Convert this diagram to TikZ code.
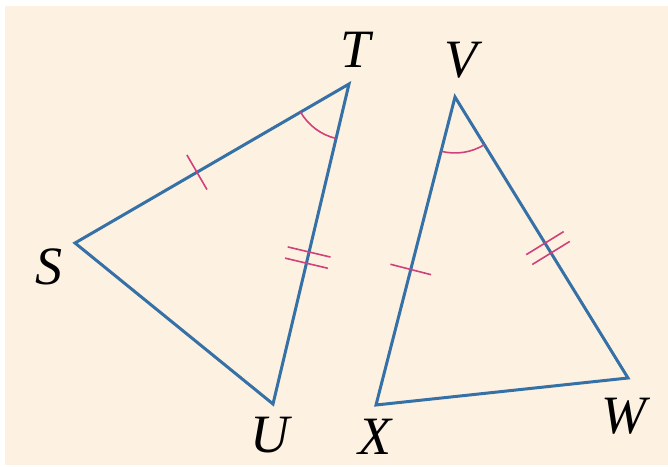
\documentclass[tikz,border=0pt]{standalone}
\usepackage{fontspec}
\setmainfont{Liberation Serif}
\usetikzlibrary{calc,angles}
\definecolor{bgcream}{HTML}{FDF2E2}
\definecolor{edgeblue}{HTML}{3570A6}
\definecolor{tickpink}{HTML}{D0407A}
\tikzset{
  edge/.style={draw=edgeblue,line width=3pt,line join=miter},
  tick/.style={draw=tickpink,line width=1.6pt},
  arcmark/.style={draw=tickpink,line width=1.6pt,angle radius=56pt},
  lbl/.style={inner sep=0pt,font=\fontsize{54}{60}\selectfont\itshape}
}
\begin{document}
\begin{tikzpicture}[x=1pt,y=1pt]
\useasboundingbox (0,0) rectangle (668,466);
\fill[white] (0,0) rectangle (668,466);
\fill[bgcream] (5,1) rectangle (668,460);
% vertices
\coordinate (T) at (349,382);
\coordinate (S) at (75,223);
\coordinate (U) at (273,62);
\coordinate (V) at (455,369);
\coordinate (X) at (376,61);
\coordinate (W) at (628,88);
% triangles
\draw[edge] (S) -- (T) -- (U) -- cycle;
\draw[edge] (V) -- (W) -- (X) -- cycle;
% angle marks
\pic[arcmark] {angle = S--T--U};
\pic[arcmark] {angle = X--V--W};
% single ticks
\coordinate (m1) at ($(S)!0.445!(T)$);
\draw[tick] ($(m1)!20pt!90:(T)$) -- ($(m1)!20pt!-90:(T)$);
\coordinate (m2) at ($(V)!0.56!(X)$);
\draw[tick] ($(m2)!21pt!90:(X)$) -- ($(m2)!21pt!-90:(X)$);
% double ticks on TU
\coordinate (m3a) at ($(T)!0.525!(U)$);
\coordinate (m3b) at ($(T)!0.560!(U)$);
\draw[tick] ($(m3a)!22pt!90:(U)$) -- ($(m3a)!22pt!-90:(U)$);
\draw[tick] ($(m3b)!22pt!90:(U)$) -- ($(m3b)!22pt!-90:(U)$);
% double ticks on VW
\coordinate (m4a) at ($(V)!0.52!(W)$);
\coordinate (m4b) at ($(V)!0.555!(W)$);
\draw[tick] ($(m4a)!22pt!90:(W)$) -- ($(m4a)!22pt!-90:(W)$);
\draw[tick] ($(m4b)!22pt!90:(W)$) -- ($(m4b)!22pt!-90:(W)$);
% labels
\node[lbl] (lT) at (356,416) {T};
\node[lbl] (lV) at (461,406) {V};
\node[lbl] (lS) at (49,199) {S};
\node[lbl] (lU) at (270,31) {U};
\node[lbl] (lX) at (375,29) {X};
\node[lbl] (lW) at (624,50) {W};
\end{tikzpicture}
\end{document}
